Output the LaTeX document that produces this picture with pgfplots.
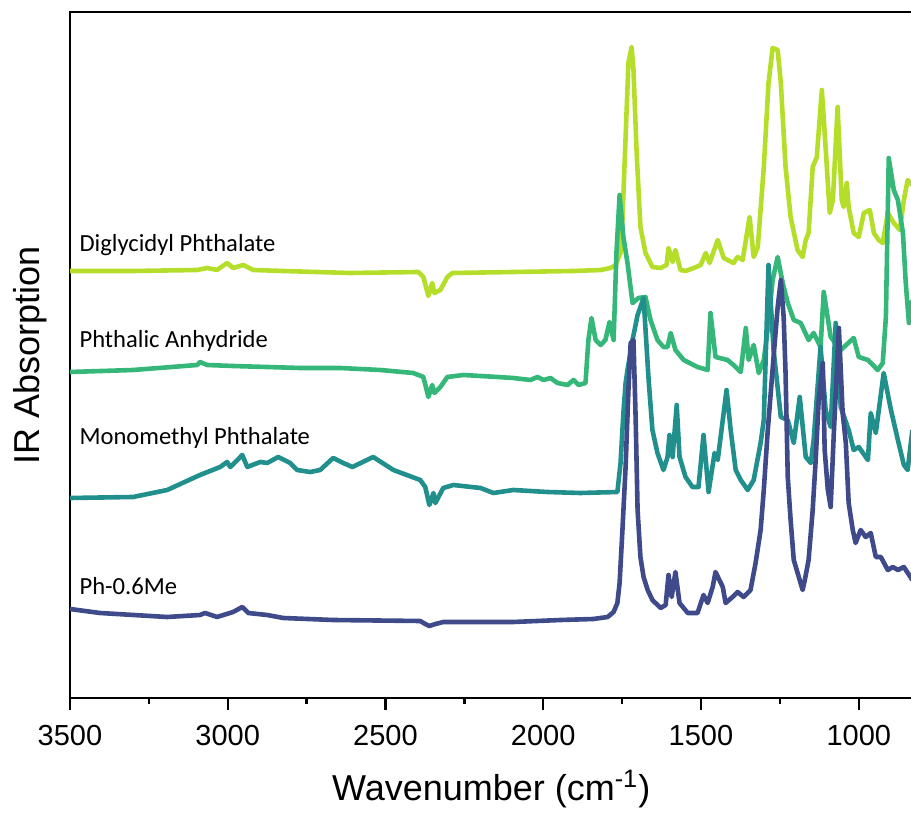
\documentclass[border=0pt]{standalone}
\usepackage{pgfplots}
\pgfplotsset{compat=1.18}
\usepackage{fontspec}
\setmainfont{Liberation Sans}
\newfontfamily\carlito{Carlito}
\definecolor{cLime}{HTML}{B5DE2B}
\definecolor{cGreen}{HTML}{35B779}
\definecolor{cTeal}{HTML}{21908D}
\definecolor{cNavy}{HTML}{3E4A89}
\begin{document}
\begin{tikzpicture}
\begin{axis}[
  name=ax,
  scale only axis,
  width=421.2pt, height=343pt,
  x dir=reverse,
  xmin=830, xmax=3500,
  ymin=0, ymax=686,
  axis line style={line width=1.2pt},
  xtick={1000,1500,2000,2500,3000,3500},
  minor x tick num=1,
  xtick pos=left,
  ytick=\empty,
  tick align=outside,
  major tick length=6pt, minor tick length=3pt,
  every tick/.style={black, line width=1.2pt},
  every minor tick/.style={black, line width=1.2pt},
  /pgf/number format/assume math mode=true,
  /pgf/number format/set thousands separator={},
  ticklabel style={font=\fontsize{14.5}{16}\selectfont},
  xticklabel style={yshift=-4pt},
  xlabel={Wavenumber (cm\textsuperscript{-1})},
  ylabel={IR Absorption},
  label style={font=\fontsize{18}{20}\selectfont},
  xlabel style={yshift=-5.5pt},
  ylabel style={yshift=2pt},
  every axis plot/.append style={line width=2.3pt, line join=round, no markers},
]
% Diglycidyl Phthalate
\addplot[cLime] coordinates {
(3500,427)(3300,427)(3097,428)(3065,430)(3034,428)(3002,435)(2983,430)(2951,433)(2919,428)(2824,427)(2612,425)(2396,426)(2380,421)(2364,402)(2352,415)(2345,405)(2326,408)(2304,421)(2288,425)(2095,426)(1904,427)(1818,428)(1787,430)(1771,433)(1755,445)(1749,478)(1739,561)(1730,635)(1720,651)(1714,628)(1704,545)(1692,471)(1676,445)(1654,431)(1628,430)(1609,433)(1603,450)(1590,436)(1581,448)(1565,428)(1549,427)(1523,430)(1501,433)(1485,445)(1473,435)(1447,458)(1428,440)(1397,435)(1384,441)(1368,438)(1346,481)(1333,441)(1320,451)(1301,531)(1286,615)(1273,650)(1257,648)(1247,615)(1232,531)(1216,481)(1194,448)(1178,441)(1168,458)(1159,465)(1146,531)(1133,541)(1117,608)(1108,565)(1092,485)(1082,498)(1067,591)(1054,498)(1048,491)(1038,515)(1032,491)(1016,465)(1000,461)(984,485)(965,488)(952,465)(937,458)(924,455)(908,485)(889,475)(870,468)(857,498)(845,518)(830,513)
};
% Phthalic Anhydride
\addplot[cGreen] coordinates {
(3500,326)(3300,328)(3097,333)(3088,336)(3065,333)(2983,332)(2770,330)(2643,330)(2517,328)(2412,325)(2380,321)(2364,301)(2352,313)(2345,305)(2326,311)(2304,321)(2253,323)(2145,321)(2095,320)(2041,318)(2018,321)(1999,318)(1977,320)(1955,315)(1923,313)(1904,318)(1888,313)(1866,315)(1857,358)(1847,380)(1834,358)(1818,353)(1803,358)(1790,376)(1777,358)(1768,445)(1758,503)(1746,461)(1733,435)(1717,395)(1698,400)(1676,401)(1660,378)(1638,358)(1619,351)(1606,351)(1596,365)(1581,348)(1555,338)(1511,331)(1479,328)(1470,385)(1454,341)(1416,338)(1397,333)(1374,326)(1358,370)(1349,338)(1333,353)(1317,325)(1301,338)(1289,368)(1273,418)(1257,441)(1241,415)(1225,395)(1206,378)(1184,375)(1159,358)(1143,365)(1121,351)(1111,406)(1089,361)(1057,348)(1016,360)(1000,341)(971,338)(940,328)(924,335)(914,381)(905,540)(889,508)(876,498)(860,465)(851,415)(841,375)(830,398)
};
% Monomethyl Phthalate
\addplot[cTeal] coordinates {
(3500,200)(3300,201)(3192,208)(3088,223)(3024,231)(3002,236)(2992,231)(2954,243)(2938,231)(2897,236)(2875,235)(2840,241)(2802,235)(2780,228)(2739,226)(2707,228)(2666,240)(2634,235)(2605,231)(2539,241)(2475,228)(2390,218)(2374,211)(2361,193)(2348,205)(2342,195)(2317,210)(2285,213)(2199,210)(2158,205)(2095,208)(1987,206)(1882,205)(1765,206)(1755,235)(1746,285)(1739,315)(1733,328)(1717,358)(1701,383)(1682,400)(1666,318)(1654,268)(1638,245)(1619,228)(1606,241)(1600,263)(1590,241)(1577,293)(1568,241)(1549,221)(1527,211)(1508,211)(1492,263)(1476,206)(1457,245)(1447,238)(1431,278)(1419,308)(1406,268)(1390,228)(1374,218)(1352,208)(1333,218)(1311,255)(1301,278)(1286,433)(1270,348)(1247,281)(1225,278)(1206,255)(1187,301)(1168,241)(1152,235)(1143,258)(1121,351)(1105,288)(1089,271)(1073,375)(1057,291)(1032,268)(1016,248)(1000,251)(971,238)(962,285)(946,265)(921,325)(898,288)(876,258)(857,233)(845,228)(830,268)
};
% Ph-0.6Me
\addplot[cNavy] coordinates {
(3500,89)(3405,85)(3192,81)(3088,83)(3072,85)(3034,81)(2983,86)(2954,91)(2935,85)(2875,83)(2824,80)(2666,78)(2390,77)(2374,74)(2361,72)(2342,74)(2317,76)(2095,76)(1945,78)(1841,79)(1796,81)(1777,86)(1765,95)(1758,115)(1749,168)(1739,231)(1730,308)(1723,355)(1714,358)(1707,278)(1701,188)(1692,141)(1682,121)(1669,108)(1654,98)(1628,90)(1612,93)(1603,123)(1593,101)(1581,126)(1568,95)(1542,85)(1511,85)(1492,103)(1479,95)(1463,111)(1454,126)(1431,111)(1422,95)(1400,101)(1384,106)(1365,101)(1343,108)(1327,135)(1311,168)(1301,208)(1289,265)(1279,305)(1270,341)(1257,391)(1247,418)(1238,381)(1232,325)(1225,221)(1216,178)(1206,138)(1190,121)(1178,108)(1171,118)(1159,138)(1146,188)(1136,241)(1127,298)(1114,335)(1108,248)(1098,208)(1089,191)(1079,265)(1063,370)(1051,285)(1041,255)(1032,195)(1019,168)(1010,155)(994,168)(978,161)(962,165)(946,141)(930,141)(908,128)(892,131)(876,128)(857,131)(830,118)
};
\node[anchor=base west, inner sep=0pt, font=\carlito\fontsize{12.3}{14}\selectfont] at (axis cs:3471,446) {Diglycidyl Phthalate};
\node[anchor=base west, inner sep=0pt, font=\carlito\fontsize{12.3}{14}\selectfont] at (axis cs:3471,350) {Phthalic Anhydride};
\node[anchor=base west, inner sep=0pt, font=\carlito\fontsize{12.3}{14}\selectfont] at (axis cs:3471,253) {Monomethyl Phthalate};
\node[anchor=base west, inner sep=0pt, font=\carlito\fontsize{12.3}{14}\selectfont] at (axis cs:3471,103) {Ph-0.6Me};
\end{axis}
\pgfresetboundingbox
\path[use as bounding box] ([xshift=-35pt,yshift=-57.5pt]ax.south west) rectangle ([xshift=-0.7pt,yshift=6pt]ax.north east);
\end{tikzpicture}
\end{document}
